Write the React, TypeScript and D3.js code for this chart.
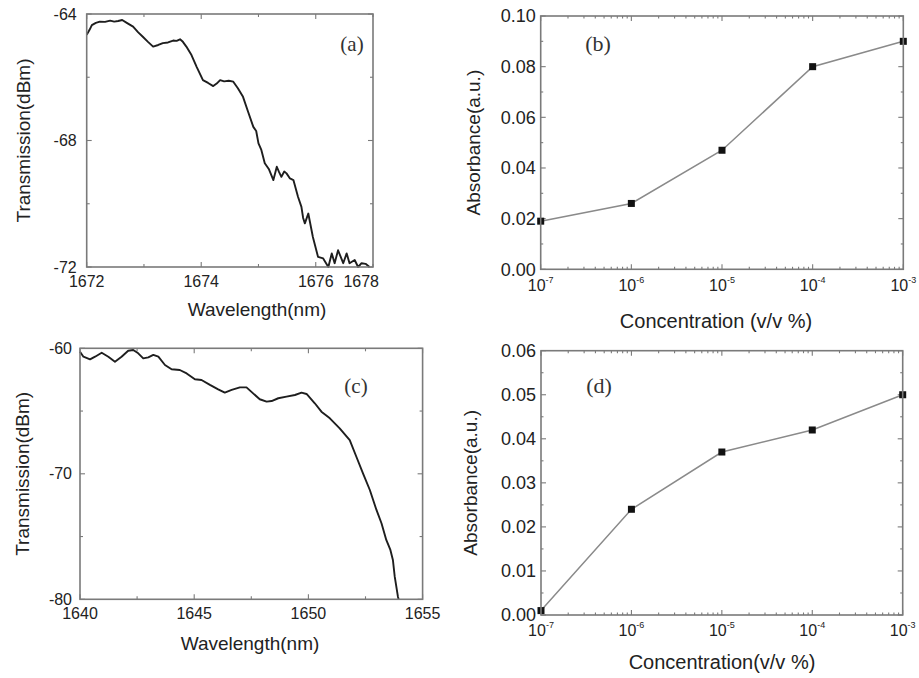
import React from "react";
import * as d3 from "d3";

// ---------- data ----------
const waveA = [1672.0, 1672.05, 1672.09, 1672.16, 1672.23, 1672.32, 1672.41, 1672.48, 1672.55, 1672.62, 1672.7, 1672.81, 1672.9, 1672.98, 1673.07, 1673.16, 1673.25, 1673.33, 1673.42, 1673.51, 1673.57, 1673.63, 1673.68, 1673.74, 1673.83, 1673.92, 1674.03, 1674.12, 1674.21, 1674.27, 1674.33, 1674.4, 1674.48, 1674.56, 1674.64, 1674.73, 1674.82, 1674.91, 1674.96, 1675.0, 1675.05, 1675.11, 1675.18, 1675.26, 1675.32, 1675.36, 1675.4, 1675.45, 1675.49, 1675.55, 1675.61, 1675.69, 1675.75, 1675.78, 1675.81, 1675.87, 1675.95, 1676.04, 1676.13, 1676.22, 1676.28, 1676.33, 1676.39, 1676.48, 1676.54, 1676.59, 1676.68, 1676.74, 1676.8, 1676.87, 1676.94];
const transA = [-64.66, -64.5, -64.35, -64.28, -64.24, -64.25, -64.21, -64.24, -64.22, -64.19, -64.28, -64.4, -64.58, -64.72, -64.88, -65.03, -64.98, -64.92, -64.9, -64.84, -64.85, -64.8, -64.88, -65.03, -65.3, -65.67, -66.09, -66.18, -66.28, -66.2, -66.09, -66.13, -66.11, -66.14, -66.35, -66.62, -67.1, -67.57, -67.7, -68.09, -68.3, -68.72, -68.9, -69.25, -68.83, -69.0, -69.15, -68.98, -69.04, -69.2, -69.25, -69.78, -70.1, -70.45, -70.62, -70.31, -71.05, -71.68, -71.73, -72.0, -71.57, -71.88, -71.47, -71.88, -71.57, -71.88, -71.78, -72.0, -71.88, -71.9, -72.0];

const waveC = [1640.0, 1640.15, 1640.44, 1640.66, 1640.95, 1641.24, 1641.53, 1641.82, 1642.11, 1642.33, 1642.55, 1642.77, 1642.99, 1643.21, 1643.43, 1643.72, 1644.01, 1644.37, 1644.67, 1645.03, 1645.32, 1645.69, 1646.05, 1646.34, 1646.64, 1647.0, 1647.29, 1647.58, 1647.87, 1648.17, 1648.39, 1648.68, 1649.04, 1649.41, 1649.7, 1649.92, 1650.28, 1650.57, 1650.94, 1651.37, 1651.81, 1652.1, 1652.39, 1652.69, 1652.98, 1653.2, 1653.41, 1653.59, 1653.7, 1653.78, 1653.92, 1653.95];
const transC = [-60.27, -60.67, -60.88, -60.67, -60.35, -60.67, -61.07, -60.67, -60.19, -60.14, -60.4, -60.8, -60.72, -60.53, -60.67, -61.33, -61.67, -61.73, -62.0, -62.47, -62.53, -62.92, -63.27, -63.53, -63.32, -63.11, -63.11, -63.59, -64.06, -64.25, -64.2, -63.98, -63.85, -63.72, -63.53, -63.64, -64.38, -65.05, -65.58, -66.38, -67.31, -68.64, -69.96, -71.29, -72.88, -73.94, -75.27, -76.07, -76.87, -78.2, -79.79, -80.0];

const concentrations = [1e-7, 1e-6, 1e-5, 1e-4, 1e-3];
const absorbanceB = [0.019, 0.026, 0.047, 0.08, 0.09];
const absorbanceD = [0.001, 0.024, 0.037, 0.042, 0.05];

const ticksAx = [1672, 1674, 1676];
const ticksAxLabels = ["1672", "1674", "1676", "1678"];
const ticksAy = [-64, -68, -72];
const ticksCx = [1640, 1645, 1650, 1655];
const ticksCy = [-60, -70, -80];
const ticksBy = [0, 0.02, 0.04, 0.06, 0.08, 0.1];
const ticksDy = [0, 0.01, 0.02, 0.03, 0.04, 0.05, 0.06];
const logExponents = ["-7", "-6", "-5", "-4", "-3"];

const FRAME = "#7a7a7a";
const SANS = "'Liberation Sans', Arial, sans-serif";
const SERIF = "'Liberation Serif', 'Times New Roman', serif";

type Box = { x0: number; x1: number; y0: number; y1: number };

function Frame({ b }: { b: Box }) {
  return (
    <rect x={b.x0} y={b.y0} width={b.x1 - b.x0} height={b.y1 - b.y0} fill="none" stroke={FRAME} strokeWidth={1.6} />
  );
}

function TickMarks({ b, xs, ys, len }: { b: Box; xs: number[]; ys: number[]; len: number }) {
  return (
    <g stroke={FRAME} strokeWidth={1.1}>
      {xs.map((x, i) => (
        <g key={"x" + i}>
          <line x1={x} x2={x} y1={b.y1} y2={b.y1 - len} />
          <line x1={x} x2={x} y1={b.y0} y2={b.y0 + len} />
        </g>
      ))}
      {ys.map((y, i) => (
        <g key={"y" + i}>
          <line x1={b.x0} x2={b.x0 + len} y1={y} y2={y} />
          <line x1={b.x1} x2={b.x1 - len} y1={y} y2={y} />
        </g>
      ))}
    </g>
  );
}

function SpectrumPanel(props: {
  b: Box;
  xDomain: [number, number];
  yDomain: [number, number];
  xs: number[];
  ys: number[];
  xTicks: number[];
  xMinor: number[];
  yTicks: number[];
  yMinor: number[];
  xLabels: string[];
  extraLabel?: string;
  tag: string;
  tagPos: [number, number];
  yTitleX: number;
  xTitleY: number;
  xTitleX: number;
  yLabelGap: number;
  xLabelBase: number;
}) {
  const { b } = props;
  const x = d3.scaleLinear().domain(props.xDomain).range([b.x0, b.x1]);
  const y = d3.scaleLinear().domain(props.yDomain).range([b.y1, b.y0]);
  const line = d3
    .line<number>()
    .x((_, i) => x(props.xs[i]))
    .y((v) => y(v));
  const yc = (b.y0 + b.y1) / 2;
  return (
    <g>
      <TickMarks b={b} xs={props.xTicks.map(x)} ys={props.yTicks.map(y)} len={5} />
      <TickMarks b={b} xs={props.xMinor.map(x)} ys={props.yMinor.map(y)} len={3} />
      <path d={line(props.ys) || ""} fill="none" stroke="#1e1e1e" strokeWidth={1.9} strokeLinejoin="round" />
      <Frame b={b} />
      <g fontFamily={SANS} fontSize={16} fill="#222">
        {props.yTicks.map((t, i) => (
          <text key={i} x={b.x0 - props.yLabelGap} y={y(t)} dy="0.35em" textAnchor="end">
            {String(t)}
          </text>
        ))}
        {props.xTicks.map((t, i) => (
          <text key={i} x={x(t)} y={props.xLabelBase} textAnchor="middle">
            {props.xLabels[i]}
          </text>
        ))}
        {props.extraLabel && (
          <text x={b.x1 + 6} y={props.xLabelBase} textAnchor="end">
            {props.extraLabel}
          </text>
        )}
      </g>
      <text x={props.xTitleX} y={props.xTitleY} textAnchor="middle" fontFamily={SANS} fontSize={19} fill="#222">
        Wavelength(nm)
      </text>
      <text
        transform={`translate(${props.yTitleX},${yc}) rotate(-90)`}
        textAnchor="middle"
        dy="0.35em"
        fontFamily={SANS}
        fontSize={19}
        fill="#222"
      >
        Transmission(dBm)
      </text>
      <text x={props.tagPos[0]} y={props.tagPos[1]} fontFamily={SERIF} fontSize={21} fill="#333" textAnchor="middle">
        {props.tag}
      </text>
    </g>
  );
}

function AbsorbancePanel(props: {
  b: Box;
  yMax: number;
  values: number[];
  yTicks: number[];
  yMinor: number[];
  yFmt: (v: number) => string;
  tag: string;
  tagPos: [number, number];
  xTitle: string;
  xTitlePos: [number, number];
  yTitleX: number;
  xLabelBase: number;
}) {
  const { b } = props;
  const x = d3.scaleLog().domain([1e-7, 1e-3]).range([b.x0, b.x1]);
  const y = d3.scaleLinear().domain([0, props.yMax]).range([b.y1, b.y0]);
  const line = d3
    .line<number>()
    .x((_, i) => x(concentrations[i]))
    .y((v) => y(v));
  const minorX: number[] = [];
  for (let e = -7; e < -3; e++) {
    for (let k = 2; k <= 9; k++) minorX.push(k * Math.pow(10, e));
  }
  const yc = (b.y0 + b.y1) / 2;
  return (
    <g>
      <TickMarks b={b} xs={concentrations.map(x)} ys={props.yTicks.map(y)} len={5} />
      <TickMarks b={b} xs={minorX.map(x)} ys={props.yMinor.map(y)} len={2.5} />
      <path d={line(props.values) || ""} fill="none" stroke="#8a8a8a" strokeWidth={1.5} />
      {props.values.map((v, i) => (
        <rect key={i} x={x(concentrations[i]) - 3.5} y={y(v) - 3.5} width={7} height={7} fill="#111" />
      ))}
      <Frame b={b} />
      <g fontFamily={SANS} fontSize={18} fill="#222">
        {props.yTicks.map((t, i) => (
          <text key={i} x={b.x0 - 5} y={y(t)} dy="0.35em" textAnchor="end">
            {props.yFmt(t)}
          </text>
        ))}
        {concentrations.map((c, i) => (
          <text key={i} x={x(c)} y={props.xLabelBase} textAnchor="middle" fontSize={16}>
            10
            <tspan dy={-8} fontSize={9}>
              {logExponents[i]}
            </tspan>
          </text>
        ))}
      </g>
      <text
        x={props.xTitlePos[0]}
        y={props.xTitlePos[1]}
        textAnchor="middle"
        fontFamily={SANS}
        fontSize={20}
        fill="#222"
      >
        {props.xTitle}
      </text>
      <text
        transform={`translate(${props.yTitleX},${yc}) rotate(-90)`}
        textAnchor="middle"
        dy="0.35em"
        fontFamily={SANS}
        fontSize={19}
        fill="#222"
      >
        Absorbance(a.u.)
      </text>
      <text x={props.tagPos[0]} y={props.tagPos[1]} fontFamily={SERIF} fontSize={22} fill="#333" textAnchor="middle">
        {props.tag}
      </text>
    </g>
  );
}

export default function App() {
  const boxA: Box = { x0: 86.7, x1: 373, y0: 14, y1: 267 };
  const boxB: Box = { x0: 540.7, x1: 903.3, y0: 16, y1: 269.3 };
  const boxC: Box = { x0: 80, x1: 422.6, y0: 348.3, y1: 599.3 };
  const boxD: Box = { x0: 541, x1: 902.7, y0: 350.7, y1: 615 };
  return (
    <svg width={919} height={678} style={{ position: "absolute", left: 0, top: 0, background: "#fff" }}>
      <rect width={919} height={678} fill="#fff" />
      <SpectrumPanel
        b={boxA}
        xDomain={[1672, 1677]}
        yDomain={[-72, -64]}
        xs={waveA}
        ys={transA}
        xTicks={ticksAx}
        xMinor={[1673, 1675, 1677]}
        yTicks={ticksAy}
        yMinor={[-66, -70]}
        xLabels={ticksAxLabels}
        extraLabel={ticksAxLabels[3]}
        tag="(a)"
        tagPos={[352, 51]}
        yTitleX={23}
        xTitleX={257}
        xTitleY={316}
        yLabelGap={10}
        xLabelBase={287}
      />
      <SpectrumPanel
        b={boxC}
        xDomain={[1640, 1655]}
        yDomain={[-80, -60]}
        xs={waveC}
        ys={transC}
        xTicks={ticksCx}
        xMinor={[1642.5, 1647.5, 1652.5]}
        yTicks={ticksCy}
        yMinor={[-65, -75]}
        xLabels={ticksCx.map(String)}
        tag="(c)"
        tagPos={[356, 393]}
        yTitleX={22}
        xTitleX={250}
        xTitleY={650}
        yLabelGap={8}
        xLabelBase={619}
      />
      <AbsorbancePanel
        b={boxB}
        yMax={0.1}
        values={absorbanceB}
        yTicks={ticksBy}
        yMinor={[0.01, 0.03, 0.05, 0.07, 0.09]}
        yFmt={(v) => v.toFixed(2)}
        tag="(b)"
        tagPos={[598, 51]}
        xTitle="Concentration (v/v %)"
        xTitlePos={[716, 328]}
        yTitleX={473}
        xLabelBase={291}
      />
      <AbsorbancePanel
        b={boxD}
        yMax={0.06}
        values={absorbanceD}
        yTicks={ticksDy}
        yMinor={[0.005, 0.015, 0.025, 0.035, 0.045, 0.055]}
        yFmt={(v) => v.toFixed(2)}
        tag="(d)"
        tagPos={[599, 393]}
        xTitle="Concentration(v/v %)"
        xTitlePos={[722, 669]}
        yTitleX={470}
        xLabelBase={636}
      />
    </svg>
  );
}
